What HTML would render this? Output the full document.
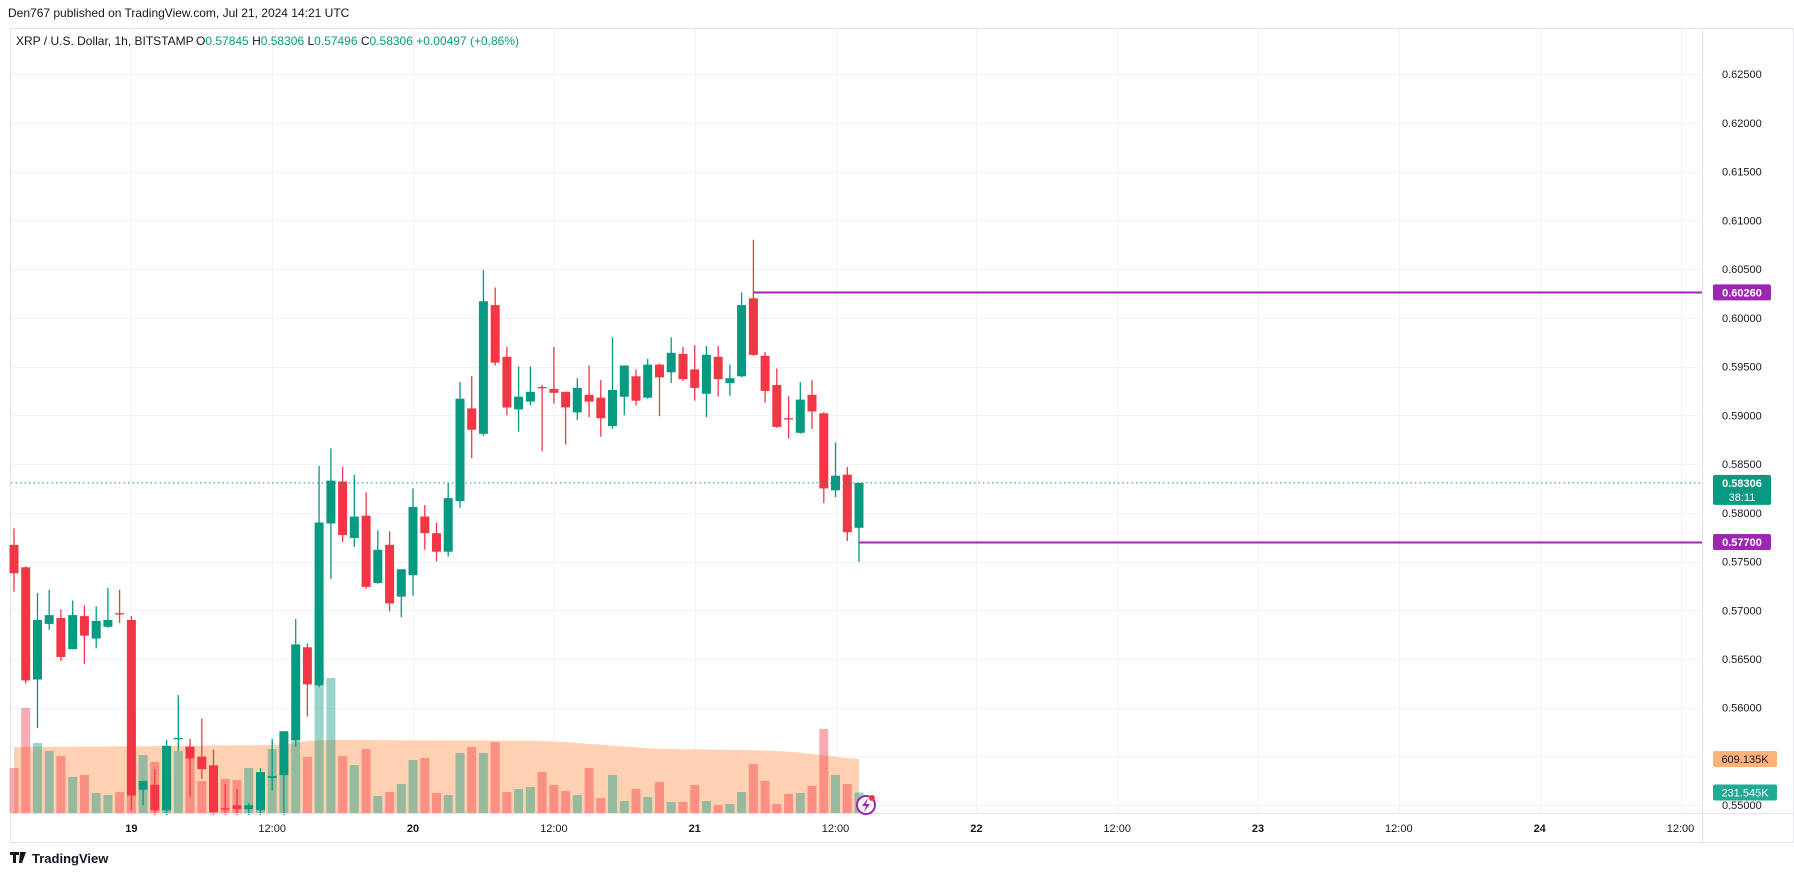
<!DOCTYPE html>
<html><head><meta charset="utf-8"><style>
html,body{margin:0;padding:0;background:#fff;}
body{width:1794px;height:877px;overflow:hidden;font-family:"Liberation Sans",sans-serif;}
svg text{font-family:"Liberation Sans",sans-serif;}
</style></head><body>
<svg id="chart" width="1794" height="877" xmlns="http://www.w3.org/2000/svg">
  <text x="8" y="17" font-size="12" fill="#131722">Den767 published on TradingView.com, Jul 21, 2024 14:21 UTC</text>
  <rect x="10.5" y="28.5" width="1783" height="814" fill="none" stroke="#e0e3eb"/>
  <g id="grid"></g>
  <g id="volume"></g>
  <g id="candles"></g>
  <g id="overlays"></g>
  <g id="axes"></g>
  <g>
    <text x="16" y="45" font-size="12" fill="#131722">XRP / U.S. Dollar, 1h, BITSTAMP</text>
    <text x="196" y="45" font-size="12" fill="#131722">O<tspan fill="#089981">0.57845</tspan> H<tspan fill="#089981">0.58306</tspan> L<tspan fill="#089981">0.57496</tspan> C<tspan fill="#089981">0.58306</tspan> <tspan fill="#089981">+0.00497 (+0.86%)</tspan></text>
  </g>
  <g>
    <path d="M10 852 h9 v3 h-3 v8 h-3 v-8 h-3z M20 852 h6 l-4 11 h-3z" fill="#131722"/>
    <circle cx="22" cy="854" r="1.6" fill="#131722"/>
    <text x="32" y="863" font-size="13" font-weight="bold" fill="#131722">TradingView</text>
  </g>
  <g>
    <circle cx="866" cy="805" r="9" fill="#fff" stroke="#9c27b0" stroke-width="2"/>
    <path d="M868 798 l-6 8 h4 l-2 6 l6 -8 h-4z" fill="#9c27b0"/>
    <circle cx="872" cy="798" r="3" fill="#f23645"/>
  </g>
</svg>
<script>
const opens=[.5767,.5744,.5629,.5686,.5692,.5660,.5694,.5671,.5683,.5697,.5690,.5516,.5521,.5495,.5568,.5560,.5550,.5541,.5497,.5500,.5496,.5495,.5528,.5531,.5567,.5662,.5623,.5789,.5832,.5774,.5797,.5728,.5767,.5714,.5736,.5796,.5779,.5760,.5812,.5907,.5881,.6013,.5960,.5906,.5914,.5929,.5927,.5924,.5903,.5921,.5918,.5889,.5919,.5940,.5918,.5952,.5944,.5963,.5947,.5922,.5960,.5933,.5940,.6020,.5961,.5931,.5897,.5882,.5921,.5902,.5823,.5839,.57845];
const highs=[.5784,.5745,.5718,.5721,.5701,.5710,.5705,.5704,.5723,.5721,.5694,.5525,.5537,.5567,.5613,.5568,.5589,.5557,.5522,.5517,.5502,.5538,.5568,.5576,.5691,.5666,.5848,.5866,.5847,.5839,.5821,.5782,.5781,.5742,.5825,.5808,.5790,.5830,.5934,.5940,.6049,.6031,.5970,.5950,.5950,.5931,.5970,.5924,.5938,.5951,.5936,.5980,.5951,.5947,.5958,.5953,.5980,.5970,.5972,.5971,.5971,.5952,.6026,.6080,.5965,.5948,.5920,.5934,.5936,.5903,.5872,.5847,.58306];
const lows=[.5719,.5625,.5579,.5680,.5648,.5660,.5645,.5661,.5682,.5687,.5495,.5500,.5490,.5490,.5556,.5509,.5527,.5490,.5490,.5490,.5490,.5490,.5515,.5490,.5560,.5591,.5621,.5732,.5770,.5765,.5722,.5727,.5699,.5693,.5715,.5762,.5750,.5755,.5805,.5856,.5879,.5951,.5900,.5883,.5910,.5863,.5912,.5870,.5895,.5898,.5878,.5886,.5900,.5910,.5917,.5899,.5933,.5935,.5915,.5898,.5919,.5920,.5939,.5961,.5913,.5887,.5876,.5881,.5886,.5810,.5816,.5771,.57496];
const closes=[.5738,.5628,.5690,.5695,.5652,.5695,.5674,.5689,.5690,.5696,.5510,.5525,.5495,.5561,.5569,.5548,.5537,.5493,.5496,.5496,.5500,.5534,.5530,.5576,.5665,.5624,.5790,.5833,.5777,.5796,.5724,.5762,.5707,.5742,.5806,.5779,.5760,.5815,.5917,.5885,.6017,.5954,.5908,.5919,.5924,.5928,.5923,.5908,.5928,.5914,.5897,.5926,.5951,.5915,.5952,.5939,.5964,.5937,.5928,.5962,.5937,.5938,.6013,.5962,.5925,.5888,.5896,.5916,.5904,.5825,.5838,.5780,.58306];
const volumes=[508,1184,790,699,643,406,429,226,203,237,1083,654,575,462,699,654,361,440,384,372,508,282,722,632,925,632,2222,1523,643,541,722,192,237,327,598,620,226,203,677,744,677,801,237,271,293,462,316,248,203,508,169,429,135,271,180,350,124,124,316,135,90,102,237,553,361,102,214,226,305,948,429,327,231.5];
const volSma=[745,746,747,748,748,749,750,750,751,752,753,754,755,756,757,758,760,761,762,764,765,766,768,770,790,815,820,822,823,823,823,822,822,821,821,820,820,819,819,818,818,817,816,815,814,812,808,800,790,780,770,760,750,740,732,726,722,720,718,716,714,712,710,707,704,700,690,680,665,650,635,620,609];
const priceTicks=["0.62500","0.62000","0.61500","0.61000","0.60500","0.60000","0.59500","0.59000","0.58500","0.58000","0.57500","0.57000","0.56500","0.56000","0.55500","0.55000"];
const timeLabels=["19","12:00","20","12:00","21","12:00","22","12:00","23","12:00","24","12:00"];
const timeLabelIdx=[10,22,34,46,58,70,82,94,106,118,130,142];
const levels=[0.60260,0.57700];
const levelStart=[63,72];
const lastPrice=0.58306;
const lastVol=231.545, smaVol=609.135;

const NS="http://www.w3.org/2000/svg";
const PLOT_L=11, PLOT_R=1702, PLOT_B=813, AXIS_X=1702;
function yOf(p){return 74+(0.625-p)*9750;}
function xOf(i){return 14+i*11.736;}
function vY(v){return PLOT_B - v/11.28;}
function mk(tag,attrs,parent){const e=document.createElementNS(NS,tag);for(const k in attrs)e.setAttribute(k,attrs[k]);parent.appendChild(e);return e;}
const G=document.getElementById('grid'),V=document.getElementById('volume'),C=document.getElementById('candles'),O=document.getElementById('overlays'),A=document.getElementById('axes');

// grid
priceTicks.forEach(t=>{const y=Math.round(yOf(parseFloat(t)))+0.5;
  const l=mk('line',{x1:PLOT_L,x2:PLOT_R,y1:y,y2:y,stroke:'#f0f3fa','stroke-width':1},G);
  
  
});
timeLabelIdx.forEach(i=>{const x=Math.round(xOf(i))+0.5;
  const l=mk('line',{x1:x,x2:x,y1:29,y2:PLOT_B,stroke:'#f0f3fa','stroke-width':1},G);
  
  
});

// volume SMA area
let d='M'+xOf(0)+' '+PLOT_B;
volSma.forEach((v,i)=>{d+=' L'+xOf(i).toFixed(1)+' '+vY(v).toFixed(1);});
d+=' L'+xOf(volSma.length-1)+' '+PLOT_B+' Z';
const area=mk('path',{d:d,fill:'#ffcfae','fill-opacity':'0.95'},V);


volumes.forEach((v,i)=>{const up=closes[i]>=opens[i];const y=vY(v);
  const r=mk('rect',{x:(xOf(i)-4.5).toFixed(1),y:y.toFixed(1),width:9,height:(PLOT_B-y).toFixed(1),fill:up?'rgba(8,153,129,0.42)':'rgba(242,54,69,0.42)'},V);
  
  
});

// candles
opens.forEach((o,i)=>{const c=closes[i],up=c>=o,col=up?'#089981':'#f23645',x=xOf(i);
  const w=mk('line',{x1:x.toFixed(1),x2:x.toFixed(1),y1:yOf(highs[i]).toFixed(1),y2:yOf(lows[i]).toFixed(1),stroke:col,'stroke-width':1.3},C);
  
  
  const yt=yOf(Math.max(o,c)),yb=yOf(Math.min(o,c));
  const b=mk('rect',{x:(x-4.5).toFixed(1),y:yt.toFixed(1),width:9,height:Math.max(1.3,yb-yt).toFixed(1),fill:col},C);
  
  
});

// last price line
const ly=yOf(lastPrice);
const pl=mk('line',{x1:PLOT_L,x2:PLOT_R,y1:ly,y2:ly,stroke:'#089981','stroke-width':1,'stroke-dasharray':'1.5,3'},O);



// horizontal levels
levels.forEach((p,k)=>{const y=Math.round(yOf(p))+0.5;
  const l=mk('line',{x1:xOf(levelStart[k]),x2:PLOT_R,y1:y,y2:y,stroke:'#9c27b0','stroke-width':2},O);
  
  
});

// price axis
const ab=mk('line',{x1:AXIS_X+0.5,x2:AXIS_X+0.5,y1:29,y2:843,stroke:'#e0e3eb'},A);


const tb=mk('line',{x1:PLOT_L,x2:1794,y1:PLOT_B+0.5,y2:PLOT_B+0.5,stroke:'#e0e3eb'},A);


priceTicks.forEach(t=>{
  const tx=mk('text',{x:1722,y:(yOf(parseFloat(t))+4).toFixed(1),'font-size':11,fill:'#131722'},A);
  tx.textContent=t;
  
  
});
timeLabels.forEach((t,k)=>{const bold=!t.includes(':');
  const tx=mk('text',{x:xOf(timeLabelIdx[k]).toFixed(1),y:832,'font-size':11,'text-anchor':'middle',fill:'#131722','font-weight':bold?'bold':'normal'},A);
  tx.textContent=t;
  
  
});

// axis labels (levels)
levels.forEach(p=>{const y=yOf(p);
  const r=mk('rect',{x:1713,y:(y-8).toFixed(1),width:58,height:16,rx:2,fill:'#9c27b0'},A);
  
  
  const t=mk('text',{x:1742,y:(y+4).toFixed(1),'font-size':11,'font-weight':'bold','text-anchor':'middle',fill:'#fff'},A);
  t.textContent=p.toFixed(5);
  
  
});
const lr=mk('rect',{x:1713,y:(ly-8).toFixed(1),width:58,height:30,rx:2,fill:'#089981'},A);


const lt=mk('text',{x:1742,y:(ly+4).toFixed(1),'font-size':11,'font-weight':'bold','text-anchor':'middle',fill:'#fff'},A);
lt.textContent=lastPrice.toFixed(5);


const ct=mk('text',{x:1742,y:(ly+18).toFixed(1),'font-size':11,'text-anchor':'middle',fill:'#fff'},A);
ct.textContent='38:11';



// volume badges
[[smaVol,'#ffb27a','#131722','volume-sma-badge'],[lastVol,'#22ab94','#fff','volume-badge']].forEach(a=>{const y=vY(a[0]);
  const r=mk('rect',{x:1713,y:(y-8).toFixed(1),width:64,height:16,rx:2,fill:a[1]},A);
  
  
  const t=mk('text',{x:1745,y:(y+4).toFixed(1),'font-size':11,'text-anchor':'middle',fill:a[2]},A);
  t.textContent=a[0].toFixed(3)+'K';
  
  
});
</script>
</body></html>
